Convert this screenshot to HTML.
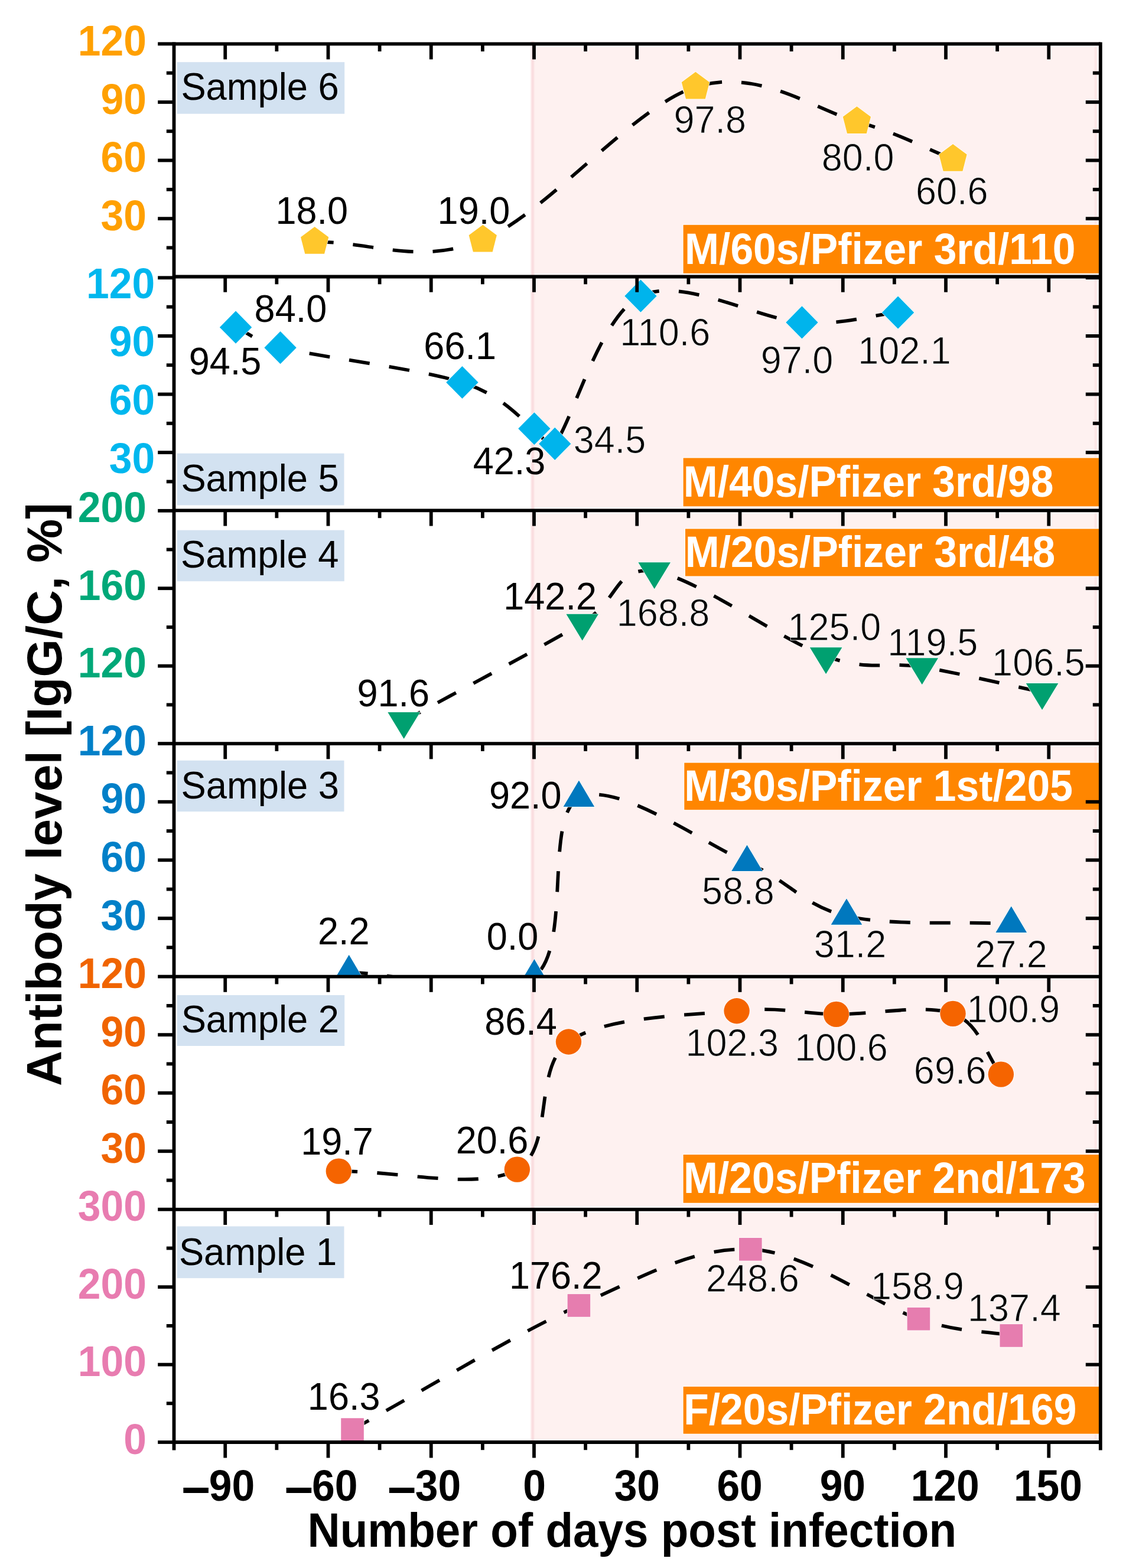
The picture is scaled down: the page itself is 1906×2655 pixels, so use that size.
<!DOCTYPE html>
<html lang="en"><head><meta charset="utf-8"><title>Antibody level vs. number of days post infection</title>
<style>html,body{margin:0;padding:0;background:#fff}body{width:1906px;height:2655px;overflow:hidden}svg{display:block;filter:blur(0.6px)}text{font-family:'Liberation Sans', Arial, Helvetica, sans-serif}.h{stroke:#fff;stroke-opacity:.75;stroke-width:1.1px}</style>
</head><body>
<svg xmlns="http://www.w3.org/2000/svg" width="1906" height="2655" viewBox="0 0 1906 2655">
<rect x="0" y="0" width="1906" height="2655" fill="#ffffff"/>
<defs>
<clipPath id="c0"><rect x="294.5" y="74.3" width="1568.3" height="394.5"/></clipPath>
<clipPath id="c1"><rect x="294.5" y="470.3" width="1568.3" height="394.5"/></clipPath>
<clipPath id="c2"><rect x="294.5" y="864.8" width="1568.3" height="394.3"/></clipPath>
<clipPath id="c3"><rect x="294.5" y="1259.1" width="1568.3" height="394.5"/></clipPath>
<clipPath id="c4"><rect x="294.5" y="1653.6" width="1568.3" height="394.2"/></clipPath>
<clipPath id="c5"><rect x="294.5" y="2047.8" width="1568.3" height="394.2"/></clipPath>
</defs>
<g id="shade">
<rect x="899" y="70.3" width="963.8" height="2371.7" fill="#FEF1F0"/>
<rect x="898.2" y="70.3" width="7" height="2371.7" fill="#FCEAEA"/>
<rect x="900.2" y="70.3" width="3.2" height="2371.7" fill="#FADDDF"/>
<rect x="1852.6" y="70.3" width="3.6" height="2371.7" fill="#FCE6E6"/>
</g>
<g id="fringe" stroke="#fff" stroke-opacity="0.6" stroke-width="10.4" fill="none">
<path d="M905,74.3 H1862.8"/>
<path d="M905,468.5 H1862.8"/>
<path d="M905,864.4 H1862.8"/>
<path d="M905,1259.1 H1862.8"/>
<path d="M905,1653.6 H1862.8"/>
<path d="M905,2047.8 H1862.8"/>
<path d="M905,2442 H1862.8"/>
<path d="M1862.8,74.3 V2442"/>
</g>
<g id="boxes">
<rect x="299.7" y="105.2" width="283.5" height="87.5" fill="#D3E2F1"/>
<rect x="1156.6" y="380.8" width="703.7" height="82" fill="#FF8600" stroke="#fff" stroke-opacity="0.8" stroke-width="2.4" paint-order="stroke"/>
<rect x="299.7" y="767.7" width="282.8" height="87.8" fill="#D3E2F1"/>
<rect x="1156.6" y="775.5" width="703.7" height="81.8" fill="#FF8600" stroke="#fff" stroke-opacity="0.8" stroke-width="2.4" paint-order="stroke"/>
<rect x="299.7" y="897.7" width="283.1" height="86.5" fill="#D3E2F1"/>
<rect x="1160" y="895.5" width="700.3" height="80" fill="#FF8600" stroke="#fff" stroke-opacity="0.8" stroke-width="2.4" paint-order="stroke"/>
<rect x="299.7" y="1287.7" width="282.8" height="86.5" fill="#D3E2F1"/>
<rect x="1158.3" y="1291.6" width="702" height="79.6" fill="#FF8600" stroke="#fff" stroke-opacity="0.8" stroke-width="2.4" paint-order="stroke"/>
<rect x="299.7" y="1685" width="283.5" height="86" fill="#D3E2F1"/>
<rect x="1156.6" y="1955.1" width="703.7" height="81.7" fill="#FF8600" stroke="#fff" stroke-opacity="0.8" stroke-width="2.4" paint-order="stroke"/>
<rect x="299.7" y="2076.5" width="282.8" height="87.7" fill="#D3E2F1"/>
<rect x="1156.6" y="2347.9" width="703.7" height="79.8" fill="#FF8600" stroke="#fff" stroke-opacity="0.8" stroke-width="2.4" paint-order="stroke"/>
</g>
<g clip-path="url(#c0)">
<path d="M532.65,409.62 C627.52,408.53 709.81,450.06 817.27,406.34 C924.72,362.61 1071.87,180.71 1177.39,147.28 C1282.92,113.86 1377.79,185.42 1450.4,205.8 C1523,226.18 1558.82,248.32 1613.03,269.58" fill="none" stroke="#000" stroke-width="5.8" stroke-dasharray="35 32.95" stroke-dashoffset="3"/>
<polygon points="532.65,384.12 556.25,401.62 549.05,429.82 516.25,429.82 509.05,401.62" fill="#FFC72C" stroke="#fff" stroke-opacity="0.85" stroke-width="1.6" stroke-linejoin="miter" paint-order="stroke"/>
<polygon points="817.27,380.84 840.87,398.34 833.67,426.54 800.87,426.54 793.67,398.34" fill="#FFC72C" stroke="#fff" stroke-opacity="0.85" stroke-width="1.6" stroke-linejoin="miter" paint-order="stroke"/>
<polygon points="1177.39,121.78 1200.99,139.28 1193.79,167.48 1160.99,167.48 1153.79,139.28" fill="#FFC72C" stroke="#fff" stroke-opacity="0.85" stroke-width="1.6" stroke-linejoin="miter" paint-order="stroke"/>
<polygon points="1450.4,180.3 1474,197.8 1466.8,226 1434,226 1426.8,197.8" fill="#FFC72C" stroke="#fff" stroke-opacity="0.85" stroke-width="1.6" stroke-linejoin="miter" paint-order="stroke"/>
<polygon points="1613.03,244.08 1636.63,261.58 1629.43,289.78 1596.63,289.78 1589.43,261.58" fill="#FFC72C" stroke="#fff" stroke-opacity="0.85" stroke-width="1.6" stroke-linejoin="miter" paint-order="stroke"/>
</g>
<g clip-path="url(#c1)">
<path d="M399.05,554.13 C424.22,565.64 434.23,578.83 474.56,588.65 C538.46,604.21 710.78,624.65 782.42,647.5 C851.45,669.51 878.26,708.42 904.39,725.74 C922.43,737.69 925.71,768.26 939.25,751.38 C969.26,713.96 1014.76,535.45 1084.46,501.2 C1154.16,466.96 1284.85,541.26 1357.46,545.91 C1430.07,550.57 1465.88,534.74 1520.1,529.15" fill="none" stroke="#000" stroke-width="5.8" stroke-dasharray="35 33.3" stroke-dashoffset="3"/>
<polygon points="399.05,526.53 426.25,554.13 399.05,581.73 371.85,554.13" fill="#00B4EC" stroke="#fff" stroke-opacity="0.85" stroke-width="1.6" stroke-linejoin="miter" paint-order="stroke"/>
<polygon points="474.56,561.05 501.76,588.65 474.56,616.25 447.36,588.65" fill="#00B4EC" stroke="#fff" stroke-opacity="0.85" stroke-width="1.6" stroke-linejoin="miter" paint-order="stroke"/>
<polygon points="782.42,619.9 809.62,647.5 782.42,675.1 755.22,647.5" fill="#00B4EC" stroke="#fff" stroke-opacity="0.85" stroke-width="1.6" stroke-linejoin="miter" paint-order="stroke"/>
<polygon points="904.39,698.14 931.59,725.74 904.39,753.34 877.19,725.74" fill="#00B4EC" stroke="#fff" stroke-opacity="0.85" stroke-width="1.6" stroke-linejoin="miter" paint-order="stroke"/>
<polygon points="939.25,723.78 966.45,751.38 939.25,778.98 912.05,751.38" fill="#00B4EC" stroke="#fff" stroke-opacity="0.85" stroke-width="1.6" stroke-linejoin="miter" paint-order="stroke"/>
<polygon points="1084.46,473.6 1111.66,501.2 1084.46,528.8 1057.26,501.2" fill="#00B4EC" stroke="#fff" stroke-opacity="0.85" stroke-width="1.6" stroke-linejoin="miter" paint-order="stroke"/>
<polygon points="1357.46,518.31 1384.66,545.91 1357.46,573.51 1330.26,545.91" fill="#00B4EC" stroke="#fff" stroke-opacity="0.85" stroke-width="1.6" stroke-linejoin="miter" paint-order="stroke"/>
<polygon points="1520.1,501.55 1547.3,529.15 1520.1,556.75 1492.9,529.15" fill="#00B4EC" stroke="#fff" stroke-opacity="0.85" stroke-width="1.6" stroke-linejoin="miter" paint-order="stroke"/>
</g>
<g clip-path="url(#c2)">
<path d="M683.67,1220.98 C784.35,1165.56 915.04,1097 985.71,1054.72 C1050.1,1016.2 1038.96,957.9 1107.69,967.32 C1176.43,976.74 1322.61,1084.24 1398.12,1111.24 C1473.63,1138.24 1499.77,1119.18 1560.76,1129.31 C1621.75,1139.44 1696.29,1157.79 1764.06,1172.03" fill="none" stroke="#000" stroke-width="5.8" stroke-dasharray="35 33.4" stroke-dashoffset="3"/>
<polygon points="656.37,1205.98 710.97,1205.98 683.67,1250.98" fill="#00A070" stroke="#fff" stroke-opacity="0.85" stroke-width="1.6" stroke-linejoin="miter" paint-order="stroke"/>
<polygon points="958.41,1039.72 1013.01,1039.72 985.71,1084.72" fill="#00A070" stroke="#fff" stroke-opacity="0.85" stroke-width="1.6" stroke-linejoin="miter" paint-order="stroke"/>
<polygon points="1080.39,952.32 1134.99,952.32 1107.69,997.32" fill="#00A070" stroke="#fff" stroke-opacity="0.85" stroke-width="1.6" stroke-linejoin="miter" paint-order="stroke"/>
<polygon points="1370.82,1096.24 1425.42,1096.24 1398.12,1141.24" fill="#00A070" stroke="#fff" stroke-opacity="0.85" stroke-width="1.6" stroke-linejoin="miter" paint-order="stroke"/>
<polygon points="1533.46,1114.31 1588.06,1114.31 1560.76,1159.31" fill="#00A070" stroke="#fff" stroke-opacity="0.85" stroke-width="1.6" stroke-linejoin="miter" paint-order="stroke"/>
<polygon points="1736.76,1157.03 1791.36,1157.03 1764.06,1202.03" fill="#00A070" stroke="#fff" stroke-opacity="0.85" stroke-width="1.6" stroke-linejoin="miter" paint-order="stroke"/>
</g>
<g clip-path="url(#c3)">
<path d="M590.73,1646.37 C695.29,1648.78 839.53,1702.8 904.39,1653.6 C969.26,1604.4 919.88,1383.37 979.91,1351.15 C1039.93,1318.93 1189.01,1426.98 1264.52,1460.29 C1340.03,1493.61 1358.43,1533.72 1432.97,1551.03 C1507.51,1568.34 1618.84,1559.8 1711.78,1564.18" fill="none" stroke="#000" stroke-width="5.8" stroke-dasharray="35 32.85" stroke-dashoffset="3"/>
<polygon points="564.43,1661.17 617.03,1661.17 590.73,1616.77" fill="#0078BE" stroke="#fff" stroke-opacity="0.85" stroke-width="1.6" stroke-linejoin="miter" paint-order="stroke"/>
<polygon points="878.09,1668.4 930.69,1668.4 904.39,1624" fill="#0078BE" stroke="#fff" stroke-opacity="0.85" stroke-width="1.6" stroke-linejoin="miter" paint-order="stroke"/>
<polygon points="953.61,1365.95 1006.21,1365.95 979.91,1321.55" fill="#0078BE" stroke="#fff" stroke-opacity="0.85" stroke-width="1.6" stroke-linejoin="miter" paint-order="stroke"/>
<polygon points="1238.22,1475.09 1290.82,1475.09 1264.52,1430.69" fill="#0078BE" stroke="#fff" stroke-opacity="0.85" stroke-width="1.6" stroke-linejoin="miter" paint-order="stroke"/>
<polygon points="1406.67,1565.83 1459.27,1565.83 1432.97,1521.43" fill="#0078BE" stroke="#fff" stroke-opacity="0.85" stroke-width="1.6" stroke-linejoin="miter" paint-order="stroke"/>
<polygon points="1685.48,1578.98 1738.08,1578.98 1711.78,1534.58" fill="#0078BE" stroke="#fff" stroke-opacity="0.85" stroke-width="1.6" stroke-linejoin="miter" paint-order="stroke"/>
</g>
<g clip-path="url(#c4)">
<path d="M573.31,1983.09 C673.99,1982.1 810.49,2016.65 875.35,1980.13 C940.21,1943.61 900.52,1808.71 962.48,1763.98 C1024.44,1719.25 1171.59,1719.52 1247.1,1711.74 C1322.61,1703.97 1354.55,1716.56 1415.54,1717.33 C1476.53,1718.1 1566.57,1699.37 1613.03,1716.34 C1659.5,1733.32 1667.25,1784.89 1694.35,1819.16" fill="none" stroke="#000" stroke-width="5.8" stroke-dasharray="35 33.3" stroke-dashoffset="3"/>
<circle cx="573.31" cy="1983.09" r="21.7" fill="#F56400" stroke="#fff" stroke-opacity="0.85" stroke-width="1.6" paint-order="stroke"/>
<circle cx="875.35" cy="1980.13" r="21.7" fill="#F56400" stroke="#fff" stroke-opacity="0.85" stroke-width="1.6" paint-order="stroke"/>
<circle cx="962.48" cy="1763.98" r="21.7" fill="#F56400" stroke="#fff" stroke-opacity="0.85" stroke-width="1.6" paint-order="stroke"/>
<circle cx="1247.1" cy="1711.74" r="21.7" fill="#F56400" stroke="#fff" stroke-opacity="0.85" stroke-width="1.6" paint-order="stroke"/>
<circle cx="1415.54" cy="1717.33" r="21.7" fill="#F56400" stroke="#fff" stroke-opacity="0.85" stroke-width="1.6" paint-order="stroke"/>
<circle cx="1613.03" cy="1716.34" r="21.7" fill="#F56400" stroke="#fff" stroke-opacity="0.85" stroke-width="1.6" paint-order="stroke"/>
<circle cx="1694.35" cy="1819.16" r="21.7" fill="#F56400" stroke="#fff" stroke-opacity="0.85" stroke-width="1.6" paint-order="stroke"/>
</g>
<g clip-path="url(#c5)">
<path d="M596.54,2420.58 C724.33,2350.55 867.61,2261.35 979.91,2210.47 C1092.2,2159.6 1174.49,2111.55 1270.33,2115.34 C1366.17,2119.13 1481.37,2208.85 1554.95,2233.21 C1628.52,2257.56 1659.5,2252.04 1711.78,2261.46" fill="none" stroke="#000" stroke-width="5.8" stroke-dasharray="35 33.7" stroke-dashoffset="3"/>
<rect x="577.24" y="2401.28" width="38.6" height="38.6" fill="#E67DAF" stroke="#fff" stroke-opacity="0.85" stroke-width="1.6" paint-order="stroke"/>
<rect x="960.61" y="2191.17" width="38.6" height="38.6" fill="#E67DAF" stroke="#fff" stroke-opacity="0.85" stroke-width="1.6" paint-order="stroke"/>
<rect x="1251.03" y="2096.04" width="38.6" height="38.6" fill="#E67DAF" stroke="#fff" stroke-opacity="0.85" stroke-width="1.6" paint-order="stroke"/>
<rect x="1535.65" y="2213.91" width="38.6" height="38.6" fill="#E67DAF" stroke="#fff" stroke-opacity="0.85" stroke-width="1.6" paint-order="stroke"/>
<rect x="1692.48" y="2242.16" width="38.6" height="38.6" fill="#E67DAF" stroke="#fff" stroke-opacity="0.85" stroke-width="1.6" paint-order="stroke"/>
</g>
<g id="labels">
<text transform="translate(306.4 168.5) scale(1 1.02)" font-size="63.3">Sample 6</text>
<text transform="translate(1159.1 446.8) scale(1 1.07)" font-size="69.6" font-weight="bold" fill="#fff">M/60s/Pfizer 3rd/110</text>
<text transform="translate(466.42 378.6) scale(1 1.04)" font-size="63">18.0</text>
<text transform="translate(740.62 378.6) scale(1 1.04)" font-size="63">19.0</text>
<text transform="translate(1140.43 225.3) scale(1 1.04)" font-size="63" class="h">97.8</text>
<text transform="translate(1390.82 289) scale(1 1.04)" font-size="63" class="h">80.0</text>
<text transform="translate(1549.9 346) scale(1 1.04)" font-size="63" class="h">60.6</text>
<text transform="translate(306.4 831.5) scale(1 1.02)" font-size="63.3">Sample 5</text>
<text transform="translate(1156.75 841.4) scale(1 1.07)" font-size="69.6" font-weight="bold" fill="#fff">M/40s/Pfizer 3rd/98</text>
<text transform="translate(319.65 633.6) scale(1 1.04)" font-size="63">94.5</text>
<text transform="translate(430.62 545.2) scale(1 1.04)" font-size="63">84.0</text>
<text transform="translate(717.35 608.1) scale(1 1.04)" font-size="63">66.1</text>
<text transform="translate(800.72 802.6) scale(1 1.04)" font-size="63">42.3</text>
<text transform="translate(970.8 767.2) scale(1 1.04)" font-size="63" class="h">34.5</text>
<text transform="translate(1049.25 584.5) scale(1 1.04)" font-size="63" class="h">110.6</text>
<text transform="translate(1287.7 631.6) scale(1 1.04)" font-size="63" class="h">97.0</text>
<text transform="translate(1452.25 615.9) scale(1 1.04)" font-size="63" class="h">102.1</text>
<text transform="translate(306.02 960.5) scale(1 1.02)" font-size="63.3">Sample 4</text>
<text transform="translate(1159.7 959.6) scale(1 1.07)" font-size="69.6" font-weight="bold" fill="#fff">M/20s/Pfizer 3rd/48</text>
<text transform="translate(604.38 1195.6) scale(1 1.04)" font-size="63">91.6</text>
<text transform="translate(852.28 1031.6) scale(1 1.04)" font-size="63">142.2</text>
<text transform="translate(1043.65 1059.9) scale(1 1.04)" font-size="63" class="h">168.8</text>
<text transform="translate(1333.53 1083.5) scale(1 1.04)" font-size="63" class="h">125.0</text>
<text transform="translate(1502.22 1110.3) scale(1 1.04)" font-size="63" class="h">119.5</text>
<text transform="translate(1679.12 1143.9) scale(1 1.04)" font-size="63" class="h">106.5</text>
<text transform="translate(306.6 1351.8) scale(1 1.02)" font-size="63.3">Sample 3</text>
<text transform="translate(1158.28 1355.7) scale(1 1.07)" font-size="69.6" font-weight="bold" fill="#fff">M/30s/Pfizer 1st/205</text>
<text transform="translate(538.08 1599.3) scale(1 1.04)" font-size="63">2.2</text>
<text transform="translate(823.8 1608.3) scale(1 1.04)" font-size="63">0.0</text>
<text transform="translate(828.05 1368.6) scale(1 1.04)" font-size="63">92.0</text>
<text transform="translate(1188.12 1530.9) scale(1 1.04)" font-size="63" class="h">58.8</text>
<text transform="translate(1377.75 1621.3) scale(1 1.04)" font-size="63" class="h">31.2</text>
<text transform="translate(1650.17 1637.8) scale(1 1.04)" font-size="63" class="h">27.2</text>
<text transform="translate(306.65 1747.5) scale(1 1.02)" font-size="63.3">Sample 2</text>
<text transform="translate(1157.03 2019.8) scale(1 1.07)" font-size="69.6" font-weight="bold" fill="#fff">M/20s/Pfizer 2nd/173</text>
<text transform="translate(509.25 1955.3) scale(1 1.04)" font-size="63">19.7</text>
<text transform="translate(771.75 1953.3) scale(1 1.04)" font-size="63">20.6</text>
<text transform="translate(820.25 1752.3) scale(1 1.04)" font-size="63">86.4</text>
<text transform="translate(1160.45 1788) scale(1 1.04)" font-size="63" class="h">102.3</text>
<text transform="translate(1345.25 1795.9) scale(1 1.04)" font-size="63" class="h">100.6</text>
<text transform="translate(1636.38 1730.6) scale(1 1.04)" font-size="63" class="h">100.9</text>
<text transform="translate(1546.85 1835.1) scale(1 1.04)" font-size="63" class="h">69.6</text>
<text transform="translate(302.9 2141.8) scale(1 1.02)" font-size="63.3">Sample 1</text>
<text transform="translate(1157.17 2411.8) scale(1 1.07)" font-size="69.6" font-weight="bold" fill="#fff">F/20s/Pfizer 2nd/169</text>
<text transform="translate(520.85 2386.6) scale(1 1.04)" font-size="63">16.3</text>
<text transform="translate(861.98 2182.2) scale(1 1.04)" font-size="63">176.2</text>
<text transform="translate(1195.05 2186.9) scale(1 1.04)" font-size="63" class="h">248.6</text>
<text transform="translate(1474.08 2199.8) scale(1 1.04)" font-size="63" class="h">158.9</text>
<text transform="translate(1638.05 2237.2) scale(1 1.04)" font-size="63" class="h">137.4</text>
</g>
<g id="axes" stroke="#000" stroke-width="5.8" fill="none" stroke-linecap="butt">
<path d="M294.5,71.4 V2455.5"/>
<path d="M1862.8,71.4 V2455.5"/>
<path d="M267.2,74.3 H294.5"/>
<path d="M294.5,74.3 H1862.8"/>
<path d="M267.2,470.3 H294.5"/>
<path d="M294.5,468.5 H1862.8"/>
<path d="M267.2,864.8 H294.5"/>
<path d="M294.5,864.4 H1862.8"/>
<path d="M267.2,1259.1 H294.5"/>
<path d="M294.5,1259.1 H1862.8"/>
<path d="M267.2,1653.6 H294.5"/>
<path d="M294.5,1653.6 H1862.8"/>
<path d="M267.2,2047.8 H294.5"/>
<path d="M294.5,2047.8 H1862.8"/>
<path d="M267.2,2442 H294.5"/>
<path d="M294.5,2442 H1862.8"/>
<path d="M1837.8,470.3 H1862.8"/>
<path d="M267.2,370.18 H294.5"/>
<path d="M1837.8,370.18 H1862.8"/>
<path d="M267.2,271.55 H294.5"/>
<path d="M1837.8,271.55 H1862.8"/>
<path d="M267.2,172.93 H294.5"/>
<path d="M1837.8,172.93 H1862.8"/>
<path d="M281.8,419.49 H294.5"/>
<path d="M281.8,320.86 H294.5"/>
<path d="M1849.8,320.86 H1862.8"/>
<path d="M281.8,222.24 H294.5"/>
<path d="M1849.8,222.24 H1862.8"/>
<path d="M281.8,123.61 H294.5"/>
<path d="M1849.8,123.61 H1862.8"/>
<path d="M267.2,766.17 H294.5"/>
<path d="M1837.8,766.17 H1862.8"/>
<path d="M267.2,667.55 H294.5"/>
<path d="M1837.8,667.55 H1862.8"/>
<path d="M267.2,568.92 H294.5"/>
<path d="M1837.8,568.92 H1862.8"/>
<path d="M281.8,815.49 H294.5"/>
<path d="M281.8,716.86 H294.5"/>
<path d="M1849.8,716.86 H1862.8"/>
<path d="M281.8,618.24 H294.5"/>
<path d="M1849.8,618.24 H1862.8"/>
<path d="M281.8,519.61 H294.5"/>
<path d="M1849.8,519.61 H1862.8"/>
<path d="M267.2,1127.67 H294.5"/>
<path d="M1837.8,1127.67 H1862.8"/>
<path d="M267.2,996.23 H294.5"/>
<path d="M1837.8,996.23 H1862.8"/>
<path d="M281.8,1193.38 H294.5"/>
<path d="M1849.8,1193.38 H1862.8"/>
<path d="M281.8,1061.95 H294.5"/>
<path d="M1849.8,1061.95 H1862.8"/>
<path d="M281.8,930.52 H294.5"/>
<path d="M267.2,1554.97 H294.5"/>
<path d="M1837.8,1554.97 H1862.8"/>
<path d="M267.2,1456.35 H294.5"/>
<path d="M1837.8,1456.35 H1862.8"/>
<path d="M267.2,1357.72 H294.5"/>
<path d="M1837.8,1357.72 H1862.8"/>
<path d="M281.8,1604.29 H294.5"/>
<path d="M1849.8,1604.29 H1862.8"/>
<path d="M281.8,1505.66 H294.5"/>
<path d="M1849.8,1505.66 H1862.8"/>
<path d="M281.8,1407.04 H294.5"/>
<path d="M1849.8,1407.04 H1862.8"/>
<path d="M281.8,1308.41 H294.5"/>
<path d="M267.2,1949.25 H294.5"/>
<path d="M1837.8,1949.25 H1862.8"/>
<path d="M267.2,1850.7 H294.5"/>
<path d="M1837.8,1850.7 H1862.8"/>
<path d="M267.2,1752.15 H294.5"/>
<path d="M1837.8,1752.15 H1862.8"/>
<path d="M281.8,1998.52 H294.5"/>
<path d="M281.8,1899.97 H294.5"/>
<path d="M1849.8,1899.97 H1862.8"/>
<path d="M281.8,1801.42 H294.5"/>
<path d="M1849.8,1801.42 H1862.8"/>
<path d="M281.8,1702.88 H294.5"/>
<path d="M1849.8,1702.88 H1862.8"/>
<path d="M267.2,2310.6 H294.5"/>
<path d="M1837.8,2310.6 H1862.8"/>
<path d="M267.2,2179.2 H294.5"/>
<path d="M1837.8,2179.2 H1862.8"/>
<path d="M281.8,2376.3 H294.5"/>
<path d="M281.8,2244.9 H294.5"/>
<path d="M1849.8,2244.9 H1862.8"/>
<path d="M281.8,2113.5 H294.5"/>
<path d="M1849.8,2113.5 H1862.8"/>
<path d="M381.23,74.3 V100.5"/>
<path d="M555.48,74.3 V100.5"/>
<path d="M729.74,74.3 V100.5"/>
<path d="M903.99,74.3 V100.5"/>
<path d="M1078.25,74.3 V100.5"/>
<path d="M1252.51,74.3 V100.5"/>
<path d="M1426.76,74.3 V100.5"/>
<path d="M1601.02,74.3 V100.5"/>
<path d="M1775.27,74.3 V100.5"/>
<path d="M468.36,74.3 V87.1"/>
<path d="M642.61,74.3 V87.1"/>
<path d="M816.87,74.3 V87.1"/>
<path d="M991.12,74.3 V87.1"/>
<path d="M1165.38,74.3 V87.1"/>
<path d="M1339.63,74.3 V87.1"/>
<path d="M1513.89,74.3 V87.1"/>
<path d="M1688.14,74.3 V87.1"/>
<path d="M381.23,468.5 V494.7"/>
<path d="M555.48,468.5 V494.7"/>
<path d="M729.74,468.5 V494.7"/>
<path d="M903.99,468.5 V494.7"/>
<path d="M1078.25,468.5 V494.7"/>
<path d="M1252.51,468.5 V494.7"/>
<path d="M1426.76,468.5 V494.7"/>
<path d="M1601.02,468.5 V494.7"/>
<path d="M1775.27,468.5 V494.7"/>
<path d="M468.36,468.5 V481.3"/>
<path d="M642.61,468.5 V481.3"/>
<path d="M816.87,468.5 V481.3"/>
<path d="M991.12,468.5 V481.3"/>
<path d="M1165.38,468.5 V481.3"/>
<path d="M1339.63,468.5 V481.3"/>
<path d="M1513.89,468.5 V481.3"/>
<path d="M1688.14,468.5 V481.3"/>
<path d="M381.23,864.4 V890.6"/>
<path d="M555.48,864.4 V890.6"/>
<path d="M729.74,864.4 V890.6"/>
<path d="M903.99,864.4 V890.6"/>
<path d="M1078.25,864.4 V890.6"/>
<path d="M1252.51,864.4 V890.6"/>
<path d="M1426.76,864.4 V890.6"/>
<path d="M1601.02,864.4 V890.6"/>
<path d="M1775.27,864.4 V890.6"/>
<path d="M468.36,864.4 V877.2"/>
<path d="M642.61,864.4 V877.2"/>
<path d="M816.87,864.4 V877.2"/>
<path d="M991.12,864.4 V877.2"/>
<path d="M1165.38,864.4 V877.2"/>
<path d="M1339.63,864.4 V877.2"/>
<path d="M1513.89,864.4 V877.2"/>
<path d="M1688.14,864.4 V877.2"/>
<path d="M381.23,1259.1 V1285.3"/>
<path d="M555.48,1259.1 V1285.3"/>
<path d="M729.74,1259.1 V1285.3"/>
<path d="M903.99,1259.1 V1285.3"/>
<path d="M1078.25,1259.1 V1285.3"/>
<path d="M1252.51,1259.1 V1285.3"/>
<path d="M1426.76,1259.1 V1285.3"/>
<path d="M1601.02,1259.1 V1285.3"/>
<path d="M1775.27,1259.1 V1285.3"/>
<path d="M468.36,1259.1 V1271.9"/>
<path d="M642.61,1259.1 V1271.9"/>
<path d="M816.87,1259.1 V1271.9"/>
<path d="M991.12,1259.1 V1271.9"/>
<path d="M1165.38,1259.1 V1271.9"/>
<path d="M1339.63,1259.1 V1271.9"/>
<path d="M1513.89,1259.1 V1271.9"/>
<path d="M1688.14,1259.1 V1271.9"/>
<path d="M381.23,1653.6 V1679.8"/>
<path d="M555.48,1653.6 V1679.8"/>
<path d="M729.74,1653.6 V1679.8"/>
<path d="M903.99,1653.6 V1679.8"/>
<path d="M1078.25,1653.6 V1679.8"/>
<path d="M1252.51,1653.6 V1679.8"/>
<path d="M1426.76,1653.6 V1679.8"/>
<path d="M1601.02,1653.6 V1679.8"/>
<path d="M1775.27,1653.6 V1679.8"/>
<path d="M468.36,1653.6 V1666.4"/>
<path d="M642.61,1653.6 V1666.4"/>
<path d="M816.87,1653.6 V1666.4"/>
<path d="M991.12,1653.6 V1666.4"/>
<path d="M1165.38,1653.6 V1666.4"/>
<path d="M1339.63,1653.6 V1666.4"/>
<path d="M1513.89,1653.6 V1666.4"/>
<path d="M1688.14,1653.6 V1666.4"/>
<path d="M381.23,2047.8 V2074"/>
<path d="M555.48,2047.8 V2074"/>
<path d="M729.74,2047.8 V2074"/>
<path d="M903.99,2047.8 V2074"/>
<path d="M1078.25,2047.8 V2074"/>
<path d="M1252.51,2047.8 V2074"/>
<path d="M1426.76,2047.8 V2074"/>
<path d="M1601.02,2047.8 V2074"/>
<path d="M1775.27,2047.8 V2074"/>
<path d="M468.36,2047.8 V2060.6"/>
<path d="M642.61,2047.8 V2060.6"/>
<path d="M816.87,2047.8 V2060.6"/>
<path d="M991.12,2047.8 V2060.6"/>
<path d="M1165.38,2047.8 V2060.6"/>
<path d="M1339.63,2047.8 V2060.6"/>
<path d="M1513.89,2047.8 V2060.6"/>
<path d="M1688.14,2047.8 V2060.6"/>
<path d="M381.23,2442 V2468.5"/>
<path d="M555.48,2442 V2468.5"/>
<path d="M729.74,2442 V2468.5"/>
<path d="M903.99,2442 V2468.5"/>
<path d="M1078.25,2442 V2468.5"/>
<path d="M1252.51,2442 V2468.5"/>
<path d="M1426.76,2442 V2468.5"/>
<path d="M1601.02,2442 V2468.5"/>
<path d="M1775.27,2442 V2468.5"/>
<path d="M468.36,2442 V2455.2"/>
<path d="M642.61,2442 V2455.2"/>
<path d="M816.87,2442 V2455.2"/>
<path d="M991.12,2442 V2455.2"/>
<path d="M1165.38,2442 V2455.2"/>
<path d="M1339.63,2442 V2455.2"/>
<path d="M1513.89,2442 V2455.2"/>
<path d="M1688.14,2442 V2455.2"/>
</g>
<g id="ticklabels">
<text transform="translate(170.5 389.78) scale(1 1.04)" font-size="69.6" font-weight="bold" fill="#FFA000">30</text>
<text transform="translate(170.5 291.15) scale(1 1.04)" font-size="69.6" font-weight="bold" fill="#FFA000">60</text>
<text transform="translate(170.5 192.53) scale(1 1.04)" font-size="69.6" font-weight="bold" fill="#FFA000">90</text>
<text transform="translate(131.75 93.9) scale(1 1.04)" font-size="69.6" font-weight="bold" fill="#FFA000">120</text>
<text transform="translate(184.8 800.57) scale(1 1.04)" font-size="69.6" font-weight="bold" fill="#00B7EE">30</text>
<text transform="translate(184.8 701.95) scale(1 1.04)" font-size="69.6" font-weight="bold" fill="#00B7EE">60</text>
<text transform="translate(184.8 603.32) scale(1 1.04)" font-size="69.6" font-weight="bold" fill="#00B7EE">90</text>
<text transform="translate(146.05 504.7) scale(1 1.04)" font-size="69.6" font-weight="bold" fill="#00B7EE">120</text>
<text transform="translate(131.75 1147.27) scale(1 1.04)" font-size="69.6" font-weight="bold" fill="#00A878">120</text>
<text transform="translate(131.75 1015.83) scale(1 1.04)" font-size="69.6" font-weight="bold" fill="#00A878">160</text>
<text transform="translate(131.75 884.4) scale(1 1.04)" font-size="69.6" font-weight="bold" fill="#00A878">200</text>
<text transform="translate(170.5 1574.57) scale(1 1.04)" font-size="69.6" font-weight="bold" fill="#0080C8">30</text>
<text transform="translate(170.5 1475.95) scale(1 1.04)" font-size="69.6" font-weight="bold" fill="#0080C8">60</text>
<text transform="translate(170.5 1377.32) scale(1 1.04)" font-size="69.6" font-weight="bold" fill="#0080C8">90</text>
<text transform="translate(131.75 1278.7) scale(1 1.04)" font-size="69.6" font-weight="bold" fill="#0080C8">120</text>
<text transform="translate(170.5 1968.85) scale(1 1.04)" font-size="69.6" font-weight="bold" fill="#F06400">30</text>
<text transform="translate(170.5 1870.3) scale(1 1.04)" font-size="69.6" font-weight="bold" fill="#F06400">60</text>
<text transform="translate(170.5 1771.75) scale(1 1.04)" font-size="69.6" font-weight="bold" fill="#F06400">90</text>
<text transform="translate(131.75 1673.2) scale(1 1.04)" font-size="69.6" font-weight="bold" fill="#F06400">120</text>
<text transform="translate(209.25 2461.6) scale(1 1.04)" font-size="69.6" font-weight="bold" fill="#E87CB0">0</text>
<text transform="translate(131.75 2330.2) scale(1 1.04)" font-size="69.6" font-weight="bold" fill="#E87CB0">100</text>
<text transform="translate(131.75 2198.8) scale(1 1.04)" font-size="69.6" font-weight="bold" fill="#E87CB0">200</text>
<text transform="translate(131.75 2067.4) scale(1 1.04)" font-size="69.6" font-weight="bold" fill="#E87CB0">300</text>
<text transform="translate(0 2541.2) scale(1 1.06)" font-size="69.6" font-weight="bold"><tspan x="307.83" y="6.6" font-size="86">–</tspan><tspan x="353.73" y="0">90</tspan></text>
<text transform="translate(0 2541.2) scale(1 1.06)" font-size="69.6" font-weight="bold"><tspan x="482.08" y="6.6" font-size="86">–</tspan><tspan x="527.98" y="0">60</tspan></text>
<text transform="translate(0 2541.2) scale(1 1.06)" font-size="69.6" font-weight="bold"><tspan x="656.34" y="6.6" font-size="86">–</tspan><tspan x="702.74" y="0">30</tspan></text>
<text transform="translate(885.14 2541.2) scale(1 1.06)" font-size="69.6" font-weight="bold">0</text>
<text transform="translate(1039.65 2541.2) scale(1 1.06)" font-size="69.6" font-weight="bold">30</text>
<text transform="translate(1213.41 2541.2) scale(1 1.06)" font-size="69.6" font-weight="bold">60</text>
<text transform="translate(1387.66 2541.2) scale(1 1.06)" font-size="69.6" font-weight="bold">90</text>
<text transform="translate(1541.67 2541.2) scale(1 1.06)" font-size="69.6" font-weight="bold">120</text>
<text transform="translate(1715.92 2541.2) scale(1 1.06)" font-size="69.6" font-weight="bold">150</text>
</g>
<g id="titles">
<text transform="translate(520.5 2619.2) scale(1 1.074)" font-size="76.35" font-weight="bold">Number of days post infection</text>
<text transform="translate(103.8 1839.12) rotate(-90) scale(1 1.01)" font-size="83.1" font-weight="bold">Antibody level [IgG/C, %]</text>
</g>
</svg></body></html>
